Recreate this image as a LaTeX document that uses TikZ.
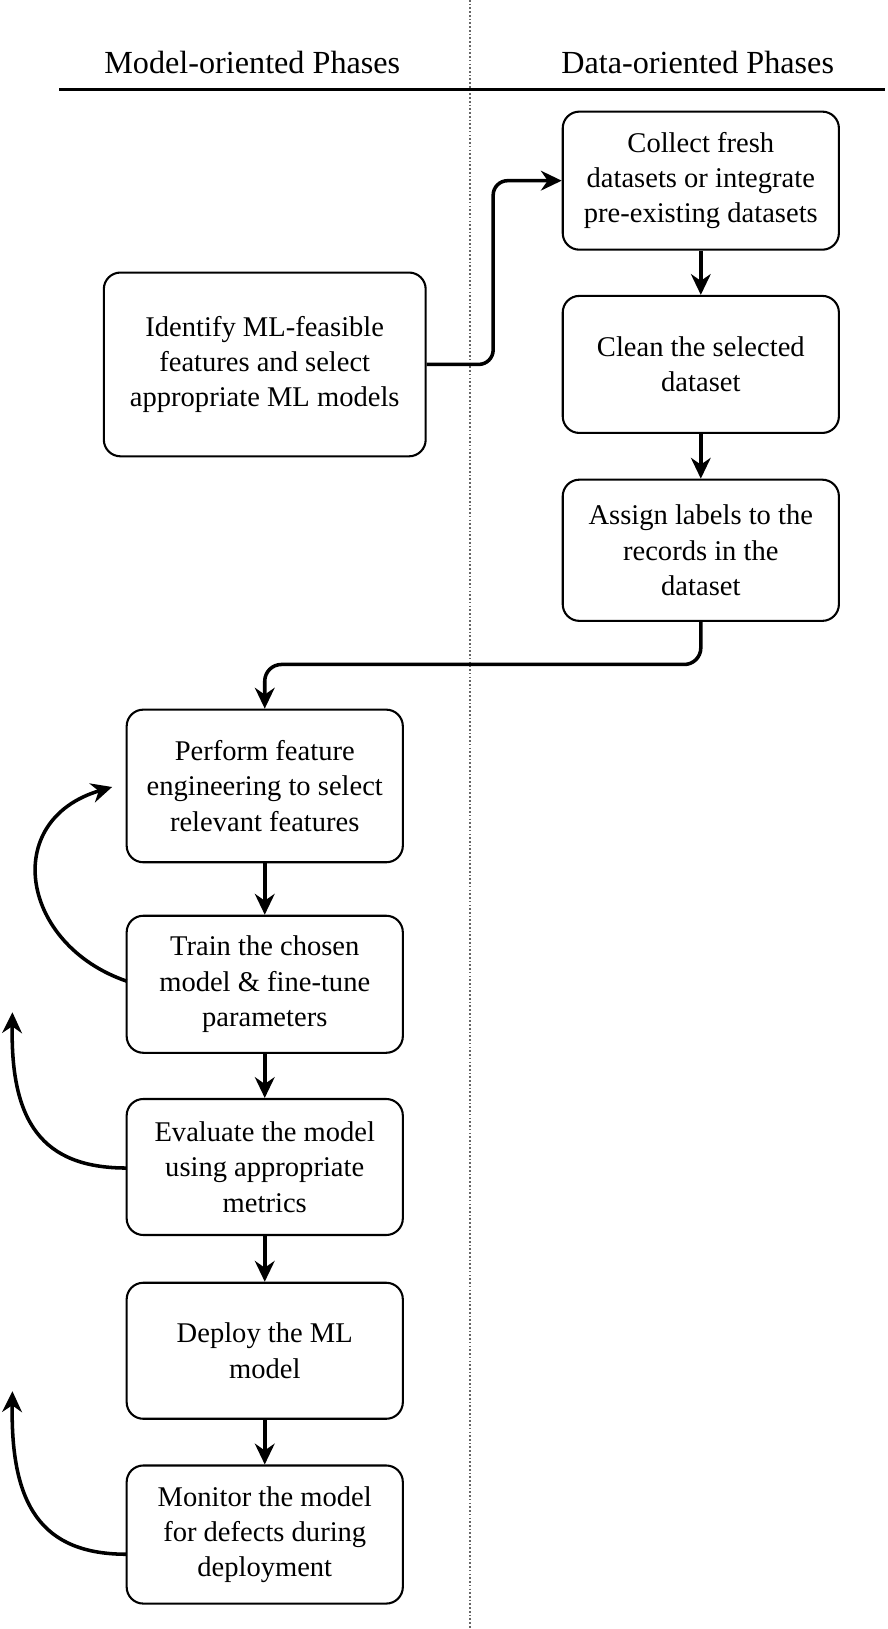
\documentclass[tikz,border=0pt]{standalone}
\usepackage{fontspec}
\setmainfont{Liberation Serif}
\usetikzlibrary{arrows.meta}
\begin{document}
\begin{tikzpicture}[x=1pt,y=-1pt,
 box/.style={draw,line width=2pt,rounded corners=16pt,align=center,font=\fontsize{27.5}{34}\selectfont,inner sep=0pt,minimum width=266pt},
 arr/.style={line width=3.4pt,-{Stealth[length=20pt,width=19pt]}},
 hd/.style={font=\fontsize{31}{36}\selectfont}]
\useasboundingbox (0,0) rectangle (855,1569);
\draw[dotted,line width=1.6pt,black!60] (453,0) -- (453,1569);
\draw[line width=3pt] (57,86) -- (852,86);
\node[hd] (h1) at (243,60) {Model-oriented Phases};
\node[hd] (h2) at (672,60) {Data-oriented Phases};
\node[box,minimum height=133pt] (collect) at (675,174) {Collect fresh\\datasets or integrate\\pre-existing datasets};
\node[box,minimum width=310pt,minimum height=177pt] (ident) at (255,351) {Identify ML-feasible\\features and select\\appropriate ML models};
\node[box,minimum height=132pt] (clean) at (675,351) {Clean the selected\\dataset};
\node[box,minimum height=136pt] (assign) at (675,530) {Assign labels to the\\records in the\\dataset};
\node[box,minimum height=147pt] (perf) at (255,757) {Perform feature\\engineering to select\\relevant features};
\node[box,minimum height=132pt] (train) at (255,948) {Train the chosen\\model \& fine-tune\\parameters};
\node[box,minimum height=131pt] (eval) at (255,1124) {Evaluate the model\\using appropriate\\metrics};
\node[box,minimum height=131pt] (deploy) at (255,1301) {Deploy the ML\\model};
\node[box,minimum height=133pt] (mon) at (255,1478) {Monitor the model\\for defects during\\deployment};
\draw[arr,rounded corners=14pt] (ident.east) -- (475,351) -- (475,174) -- (collect.west);
\draw[arr] (collect) -- (clean);
\draw[arr] (clean) -- (assign);
\draw[arr,rounded corners=16pt] (assign.south) -- (675,640) -- (255,640) -- (perf.north);
\draw[arr] (perf) -- (train);
\draw[arr] (train) -- (eval);
\draw[arr] (eval) -- (deploy);
\draw[arr] (deploy) -- (mon);
\coordinate (pl) at (108,758);
\draw[arr] (122,945) .. controls (20,910) and (0,790) .. (pl);
\coordinate (e1) at (12,975);
\draw[arr] (122,1125) .. controls (40,1125) and (10,1080) .. (e1);
\coordinate (m1) at (12,1340);
\draw[arr] (122,1497) .. controls (40,1497) and (10,1450) .. (m1);
\end{tikzpicture}
\end{document}
